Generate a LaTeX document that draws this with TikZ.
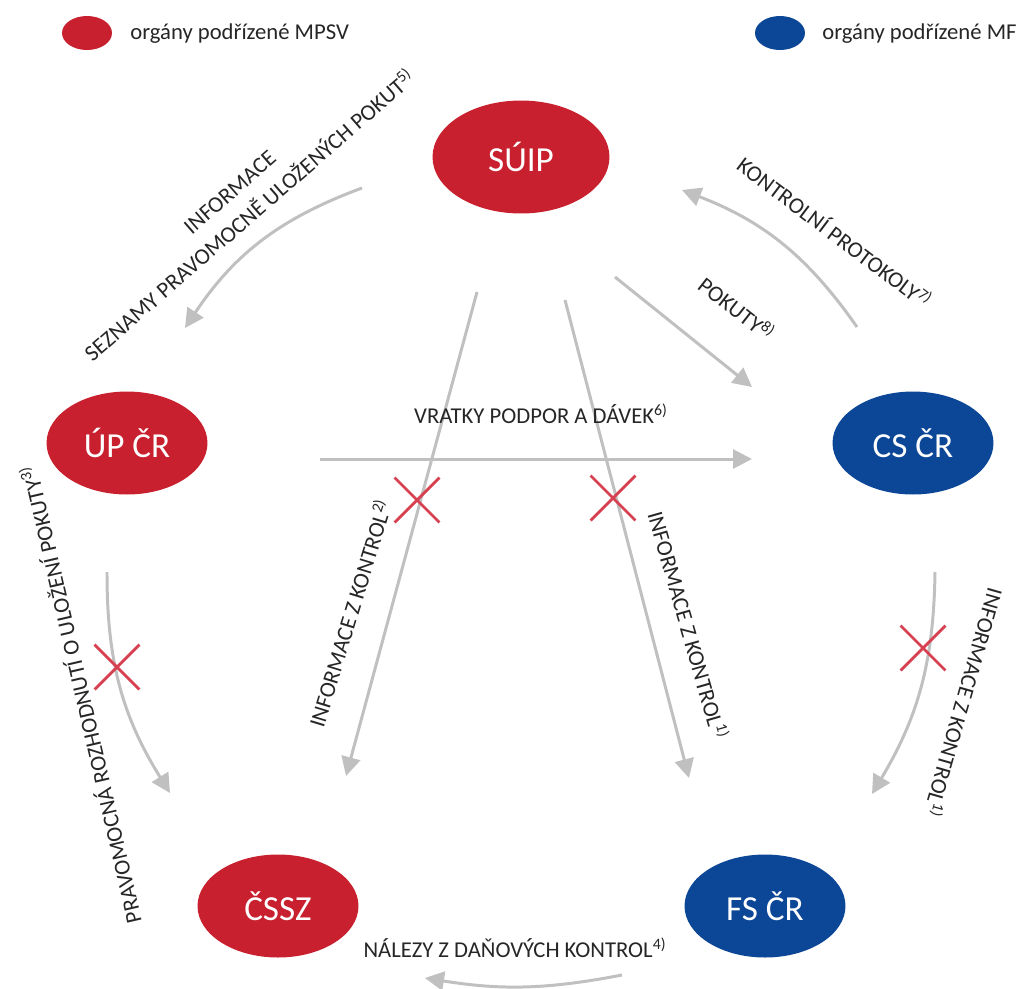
\documentclass[tikz,border=0pt]{standalone}
\usepackage{fontspec}
\setmainfont{Carlito}
\usetikzlibrary{arrows.meta,shapes.geometric,shapes.misc}
\definecolor{mpsvred}{RGB}{200,32,46}
\definecolor{mfblue}{RGB}{12,70,150}
\definecolor{flowgray}{RGB}{192,192,192}
\definecolor{crossred}{RGB}{214,64,80}
\definecolor{txtgray}{RGB}{38,38,38}

\begin{document}
\begin{tikzpicture}[x=0.02cm, y=-0.02cm,
    rnode/.style={ellipse, fill=mpsvred, text=white, inner sep=0pt, minimum width=3.22cm, minimum height=2.06cm, font=\fontsize{20}{24}\selectfont},
    bnode/.style={rnode, fill=mfblue},
    flow/.style={draw=flowgray, line width=1.7pt, -{Triangle[length=0.38cm,width=0.38cm]}},
    lbl/.style={text=txtgray, inner sep=0pt, font=\fontsize{12.9}{15.5}\selectfont, align=center},
    xmark/.style={cross out, draw=crossred, line width=1.6pt, minimum size=0.84cm, inner sep=0pt}]
    \useasboundingbox (0,0) rectangle (1024,988);

    % legend
    \node[rnode, minimum width=1cm, minimum height=0.68cm] (lred) at (87,33) {};
    \node[lbl, anchor=west] (tred) at (130,34) {orgány podřízené MPSV};
    \node[bnode, minimum width=1cm, minimum height=0.68cm] (lblue) at (780,33) {};
    \node[lbl, anchor=west] (tblue) at (822,34) {orgány podřízené MF};

    % organs
    \node[rnode, minimum width=3.54cm, minimum height=2.26cm] (suip) at (521,157) {SÚIP};
    \node[rnode] (up) at (127,443) {ÚP ČR};
    \node[bnode] (cs) at (913,443) {CS ČR};
    \node[rnode] (cssz) at (278,906) {ČSSZ};
    \node[bnode] (fs) at (765,906) {FS ČR};

    % arrow ends
    \coordinate (suip-w) at (362,188);
    \coordinate (suip-e) at (682,190);
    \coordinate (suip-se) at (615,277);
    \coordinate (suip-sl) at (477,292);
    \coordinate (suip-sr) at (565,300);
    \coordinate (up-n) at (185,328);
    \coordinate (up-e) at (320,459);
    \coordinate (up-s) at (107,572);
    \coordinate (cs-nw) at (752,387);
    \coordinate (cs-w) at (752,459);
    \coordinate (cs-n) at (857,327);
    \coordinate (cs-s) at (935,572);
    \coordinate (cssz-n) at (346,776);
    \coordinate (cssz-nw) at (170,793);
    \coordinate (cssz-se) at (425,978);
    \coordinate (fs-n) at (689,778);
    \coordinate (fs-ne) at (872,794);
    \coordinate (fs-sw) at (622,975);

    \draw[flow] (suip-w) to[bend right=18] (up-n);
    \draw[flow] (cs-n) to[bend right=17] (suip-e);
    \draw[flow] (suip-se) -- (cs-nw);
    \draw[flow] (up-e) -- (cs-w);
    \draw[flow] (suip-sl) -- (cssz-n);
    \draw[flow] (suip-sr) -- (fs-n);
    \draw[flow] (cs-s) to[bend left=15] (fs-ne);
    \draw[flow] (up-s) to[bend right=16] (cssz-nw);
    \draw[flow] (fs-sw) to[bend left=10] (cssz-se);

    % blocked flows
    \node[xmark] (x1) at (417,500) {};
    \node[xmark] (x2) at (613,498) {};
    \node[xmark] (x3) at (923,648) {};
    \node[xmark] (x4) at (117,667) {};

    % labels
    \node[lbl, rotate=41] (l1) at (240,204) {INFORMACE\\[2pt]SEZNAMY PRAVOMOCNĚ ULOŽENÝCH POKUT\textsuperscript{5)}};
    \node[lbl, rotate=-37] (l2) at (835,232) {KONTROLNÍ PROTOKOLY\textsuperscript{7)}};
    \node[lbl, rotate=-38] (l3) at (737,308) {POKUTY\textsuperscript{8)}};
    \node[lbl] (l4) at (541,414) {VRATKY PODPOR A DÁVEK\textsuperscript{6)}};
    \node[lbl, rotate=73] (l5) at (349,613) {INFORMACE Z KONTROL\textsuperscript{2)}};
    \node[lbl, rotate=-74] (l6) at (689,625) {INFORMACE Z KONTROL\textsuperscript{1)}};
    \node[lbl, rotate=-106] (l7) at (965,703) {INFORMACE Z KONTROL\textsuperscript{1)}};
    \node[lbl, rotate=103] (l8) at (80,695) {PRAVOMOCNÁ ROZHODNUTÍ O ULOŽENÍ POKUTY\textsuperscript{3)}};
    \node[lbl] (l9) at (515,948) {NÁLEZY Z DAŇOVÝCH KONTROL\textsuperscript{4)}};
\end{tikzpicture}
\end{document}
